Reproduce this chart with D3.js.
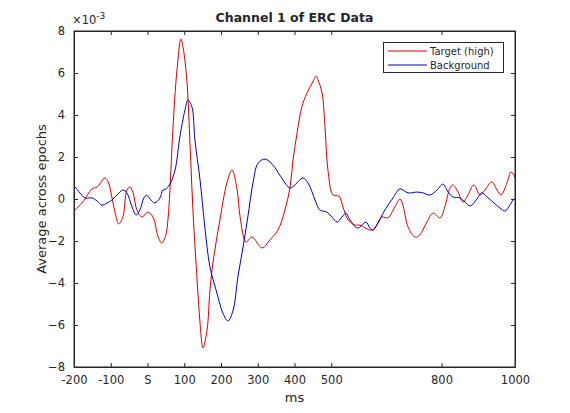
<!DOCTYPE html>
<html><head><meta charset="utf-8">
<script src="https://cdn.jsdelivr.net/npm/d3@7"></script>
<style>body{margin:0;background:#fff}svg{display:block}text{font-family:"DejaVu Sans",sans-serif;fill:#262626}</style>
</head><body>
<svg id="c" width="570" height="413"></svg>
<script>
const xTicks = [-200,-100,0,100,200,300,400,500,800,1000];
const xTickLabels = ["-200","-100","S","100","200","300","400","500","800","1000"];
const yTicks = [-8,-6,-4,-2,0,2,4,6,8];
const seriesNames = ["Target (high)","Background"];
// values in units of 1e-3
const targetMs = [-200,-197,-176,-151,-137,-116,-107,-97,-88,-78,-67,-56,-48,-39,-29,-15,1,15,29,39,50,56,61,69,80,91,97,107,116,124,135,143,151,162,170,178,197,216,230,244,252,268,284,312,333,355,374,388,396,407,420,434,448,459,464,475,483,491,505,521,532,546,565,578,592,611,624,638,654,673,687,695,709,728,741,760,777,796,809,823,831,845,858,872,888,905,918,937,951,962,978,989,997,1000];
const targetVal = [-0.55,-0.52,-0.14,0.48,0.57,1.0,0.81,0.1,-0.67,-1.19,-0.86,0.43,0.57,0.29,-0.52,-0.86,-0.62,-0.86,-1.81,-2.1,-1.7,-0.9,0.4,3.3,6.1,7.62,7.2,5.67,2.48,-0.67,-3.86,-5.9,-7.1,-6.24,-4.33,-3.05,-1.0,0.76,1.38,0.43,-0.86,-2.05,-1.81,-2.33,-1.95,-1.48,-0.52,0.57,1.86,3.14,4.38,5.05,5.52,5.86,5.67,5.05,3.43,1.38,0.19,0.14,-0.38,-1.0,-1.24,-1.24,-1.38,-1.48,-1.24,-0.86,-0.9,-0.38,0.0,-0.29,-1.33,-1.81,-1.71,-1.1,-0.67,-0.9,-0.38,0.52,0.67,0.33,-0.14,0.19,0.67,0.19,0.43,0.81,0.43,0.19,0.76,1.29,1.14,1.0];
const backgroundMs = [-200,-197,-184,-170,-151,-137,-124,-110,-97,-83,-67,-56,-42,-31,-20,-10,-2,12,20,34,42,48,61,75,88,102,110,121,129,143,156,170,189,205,219,233,246,260,273,287,301,320,341,360,388,401,423,437,456,469,488,502,516,529,540,551,570,578,595,605,614,624,646,668,687,709,733,750,769,788,804,818,831,850,864,878,894,910,924,940,959,973,986,997,1000];
const backgroundVal = [0.6,0.57,0.29,0.05,0.05,-0.1,-0.29,-0.19,-0.05,0.19,0.43,0.29,-0.38,-0.76,-0.5,0.05,0.17,-0.1,-0.19,0.05,0.43,0.45,0.71,1.38,2.95,4.24,4.71,4.38,2.81,0.9,-1.33,-3.24,-4.48,-5.43,-5.81,-5.29,-3.71,-2.29,-0.86,0.76,1.71,1.9,1.62,1.14,0.52,0.67,1.0,0.76,-0.05,-0.52,-0.62,-0.86,-1.1,-0.86,-0.67,-1.0,-1.38,-1.33,-1.1,-1.38,-1.48,-1.24,-0.52,0.05,0.48,0.29,0.33,0.29,0.19,0.43,0.71,0.33,0.1,0.05,-0.14,-0.33,-0.05,0.29,0.1,-0.14,-0.43,-0.57,-0.29,0.0,0.02];

const svg = d3.select("#c");
const L=74, R=515, T=31, B=367;
const x = d3.scaleLinear().domain([-200,1000]).range([L,R]);
const y = d3.scaleLinear().domain([-8,8]).range([B,T]);
const axisCol="#262626";

svg.append("clipPath").attr("id","cl").append("rect").attr("x",L).attr("y",T).attr("width",R-L).attr("height",B-T);

function ser(ms,vals){return ms.map((m,i)=>[m,vals[i]]);}
const line = d3.line().x(d=>x(d[0])).y(d=>y(d[1])).curve(d3.curveCatmullRom.alpha(0.5));
const plot = svg.append("g").attr("clip-path","url(#cl)");
plot.append("path").attr("d",line(ser(targetMs,targetVal))).attr("fill","none").attr("stroke","#d40000").attr("stroke-width",1);
plot.append("path").attr("d",line(ser(backgroundMs,backgroundVal))).attr("fill","none").attr("stroke","#0000c0").attr("stroke-width",1);

// axes
const tl=-4;
const xb = d3.axisBottom(x).tickValues(xTicks).tickFormat((d,i)=>xTickLabels[i]).tickSizeInner(tl).tickSizeOuter(0).tickPadding(9);
const xt = d3.axisTop(x).tickValues(xTicks).tickFormat("").tickSizeInner(tl).tickSizeOuter(0);
const yl = d3.axisLeft(y).tickValues(yTicks).tickFormat(d3.format("d")).tickSizeInner(tl).tickSizeOuter(0).tickPadding(9);
const yr = d3.axisRight(y).tickValues(yTicks).tickFormat("").tickSizeInner(tl).tickSizeOuter(0);
function style(sel){sel.selectAll("path").attr("stroke",axisCol);sel.selectAll("line").attr("stroke",axisCol);sel.selectAll("text").attr("fill",axisCol).style("font-size","11.5px").style("font-family","DejaVu Sans");}
svg.append("g").attr("transform",`translate(0,${B})`).call(xb).call(style);
svg.append("g").attr("transform",`translate(0,${T})`).call(xt).call(style);
svg.append("g").attr("transform",`translate(${L},0)`).call(yl).call(style);
svg.append("g").attr("transform",`translate(${R},0)`).call(yr).call(style);
svg.append("rect").attr("x",L).attr("y",T).attr("width",R-L).attr("height",B-T).attr("fill","none").attr("stroke",axisCol).attr("stroke-width",1);

// exponent
const ex = svg.append("text").attr("x",L-2).attr("y",T-7).style("font-size","11.5px");
ex.append("tspan").text("\u00d710");
ex.append("tspan").attr("dy",-5).style("font-size","9px").text("-3");

// title
svg.append("text").attr("x",(L+R)/2).attr("y",22).attr("text-anchor","middle").style("font-size","12.5px").style("font-weight","bold").attr("fill","#000").text("Channel 1 of ERC Data");
// labels
svg.append("text").attr("x",(L+R)/2).attr("y",402).attr("text-anchor","middle").style("font-size","13px").text("ms");
svg.append("text").attr("transform",`translate(46,${(T+B)/2}) rotate(-90)`).attr("text-anchor","middle").style("font-size","13px").text("Average across epochs");

// legend
const lg = svg.append("g");
lg.append("rect").attr("x",383.5).attr("y",42.5).attr("width",120).attr("height",30).attr("fill","#fff").attr("stroke",axisCol);
const cols=["#d40000","#0000c0"];
seriesNames.forEach((n,i)=>{
  const yy=51+i*14;
  lg.append("line").attr("x1",388).attr("x2",427).attr("y1",yy).attr("y2",yy).attr("stroke",cols[i]);
  lg.append("text").attr("x",430).attr("y",yy+4).style("font-size","10px").text(n);
});
</script>
</body></html>
